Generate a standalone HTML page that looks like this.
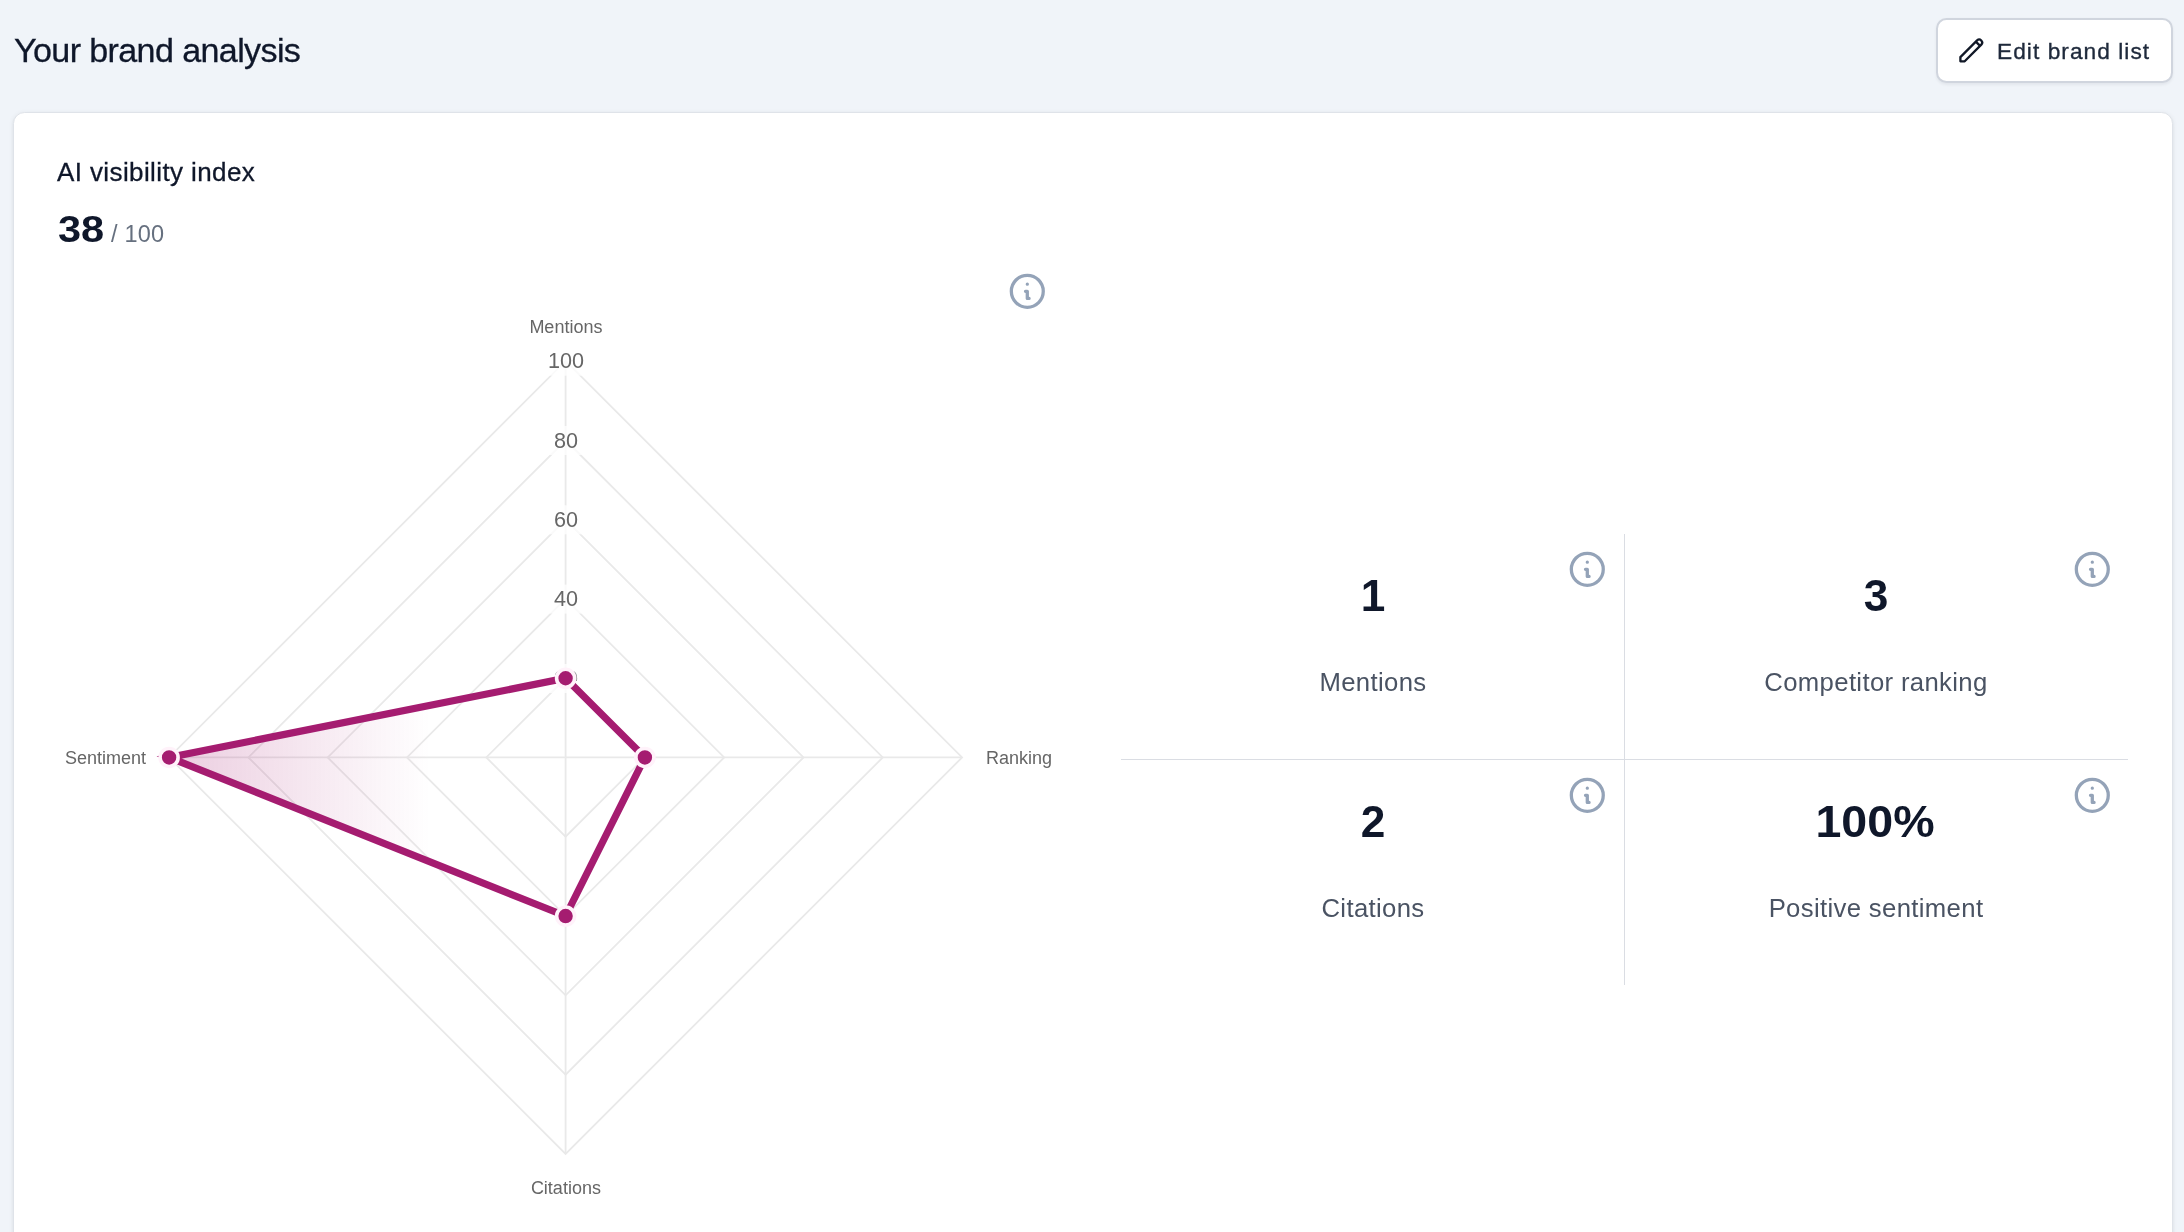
<!DOCTYPE html>
<html lang="en">
<head>
<meta charset="utf-8">
<title>Your brand analysis</title>
<style>
  html, body { margin: 0; padding: 0; }
  body {
    width: 2184px; height: 1232px; overflow: hidden; position: relative;
    background: #f0f4f9;
    font-family: "Liberation Sans", Arial, sans-serif;
    color: #0f172a;
  }
  .abs { position: absolute; white-space: nowrap; line-height: 1; will-change: transform; }
  h1 { margin: 0; font-weight: 400; }
  .btn {
    position: absolute; left: 1936px; top: 18px; width: 237px; height: 65px;
    box-sizing: border-box; background: #fff; border: 2px solid #d0d5de;
    border-radius: 10.5px; box-shadow: 0 1.8px 3px rgba(15,23,42,0.06);
  }
  .card {
    position: absolute; left: 12.5px; top: 112px; width: 2160.5px; height: 1200px;
    box-sizing: border-box; background: #fff; border: 1.4px solid #dfe3e9;
    border-radius: 11.5px; box-shadow: 0 1.8px 5.4px rgba(0,0,0,0.07), 0 1.8px 3.6px -1.8px rgba(0,0,0,0.07);
  }
  .info { position: absolute; width: 42.6px; height: 42.6px; color: #94a3b8; }
  .vline { position: absolute; left: 1624px; top: 534px; width: 1px; height: 451px; background: #dadde3; }
  .hline { position: absolute; left: 1121px; top: 759px; width: 1007px; height: 1px; background: #dadde3; }
  .num { font-weight: 700; color: #0f172a; }
  .lbl { color: #4a5363; }
</style>
</head>
<body>
  <h1 class="abs" id="t_title" style="left:13.6px; top:33.3px; font-size:34.1px; letter-spacing:-0.62px; -webkit-text-stroke:0.3px #0f172a;">Your brand analysis</h1>

  <div class="btn"></div>
  <svg class="abs" id="pencil" style="left:1950px; top:30px; width:40px; height:40px;" viewBox="1950 30 40 40" fill="none" stroke="#111827" stroke-width="2.3" stroke-linecap="round" stroke-linejoin="round">
    <path d="M1960.4 61.3L1960.4 57.1L1977.08 40.38A3 3 0 0 1 1981.32 44.62L1964.7 61.3ZM1975.81 41.65L1980.05 45.89"/>
  </svg>
  <span class="abs" id="t_edit" style="left:1997.3px; top:39.9px; font-size:22.7px; letter-spacing:1.05px; color:#1e293b; -webkit-text-stroke:0.35px #1e293b;">Edit brand list</span>

  <div class="card"></div>

  <span class="abs" id="t_ai" style="left:57.3px; top:159.3px; font-size:26px; letter-spacing:0.39px; -webkit-text-stroke:0.3px #0f172a;">AI visibility index</span>
  <span class="abs num" id="t_38" style="left:57.95px; top:210.5px; font-size:37.4px; transform:scaleX(1.111); transform-origin:0 0;">38</span>
  <span class="abs" id="t_100" style="left:111.2px; top:222.8px; font-size:23.5px; letter-spacing:0.2px; color:#66707f;">/ 100</span>

  <!-- chart info icon -->
  <svg class="info" style="left:1006.3px; top:270.1px;" viewBox="0 0 24 24" fill="none" stroke="currentColor" stroke-width="1.85"><path stroke-linecap="round" stroke-linejoin="round" d="M13 16h-1v-4h-1m1-4h.01M21 12a9 9 0 11-18 0 9 9 0 0118 0z"/></svg>

  <!-- radar chart -->
  <svg class="abs" id="chart" style="left:0; top:0;" width="1100" height="1232" viewBox="0 0 1100 1232">
    <defs>
      <linearGradient id="fillg" gradientUnits="userSpaceOnUse" x1="169" y1="0" x2="430" y2="0">
        <stop offset="0" stop-color="#a51c70" stop-opacity="0.22"/>
        <stop offset="1" stop-color="#a51c70" stop-opacity="0"/>
      </linearGradient>
      <clipPath id="clip20"><rect x="540" y="660" width="52" height="21"/></clipPath>
    </defs>
    <g fill="none" stroke="#e9e9e9" stroke-width="1.8" transform="translate(0,0.25)">
      <polygon points="565.6,678.0 644.9,757.2 565.6,836.5 486.3,757.2"/>
      <polygon points="565.6,598.6 724.2,757.2 565.6,915.8 407.0,757.2"/>
      <polygon points="565.6,519.3 803.5,757.2 565.6,995.1 327.7,757.2"/>
      <polygon points="565.6,440.0 882.8,757.2 565.6,1074.4 248.4,757.2"/>
      <polygon points="565.6,360.7 962.1,757.2 565.6,1153.7 169.1,757.2"/>
      <line x1="565.6" y1="757.2" x2="565.6" y2="360.7"/>
      <line x1="565.6" y1="757.2" x2="962.1" y2="757.2"/>
      <line x1="565.6" y1="757.2" x2="565.6" y2="1153.7"/>
      <line x1="565.6" y1="757.2" x2="169.1" y2="757.2"/>
    </g>
    <g font-family="Liberation Sans, Arial, sans-serif" font-size="18" fill="#666">
      <text x="565.9" y="333" text-anchor="middle">Mentions</text>
      <text x="986" y="763.6">Ranking</text>
      <text x="565.9" y="1194.1" text-anchor="middle">Citations</text>
      <text x="146" y="763.7" text-anchor="end">Sentiment</text>
    </g>
    <g font-family="Liberation Sans, Arial, sans-serif" font-size="21.6" fill="#666" text-anchor="middle">
      <rect x="548" y="664" width="36" height="29" fill="rgba(255,255,255,0.75)"/>
      <text x="565.9" y="685.6" clip-path="url(#clip20)" fill="#8c8c8c">20</text>
      <rect x="548" y="584.6" width="36" height="29" fill="rgba(255,255,255,0.75)"/>
      <text x="565.9" y="606.2">40</text>
      <rect x="548" y="505.3" width="36" height="29" fill="rgba(255,255,255,0.75)"/>
      <text x="565.9" y="526.9">60</text>
      <rect x="548" y="426" width="36" height="29" fill="rgba(255,255,255,0.75)"/>
      <text x="565.9" y="447.6">80</text>
      <rect x="542" y="346.7" width="48" height="29" fill="rgba(255,255,255,0.75)"/>
      <text x="565.9" y="368.3">100</text>
    </g>
    <polygon transform="translate(0,0.25)" points="565.6,678.0 644.9,757.2 565.6,915.8 169.1,757.2" fill="url(#fillg)" stroke="#a51c70" stroke-width="7.2" stroke-linejoin="miter"/>
    <g fill="#a51c70" stroke="#fff2fa" stroke-width="3.6" transform="translate(0,0.25)">
      <circle cx="565.6" cy="678.0" r="9"/>
      <circle cx="644.9" cy="757.2" r="9"/>
      <circle cx="565.6" cy="915.8" r="9"/>
      <circle cx="169.1" cy="757.2" r="9"/>
    </g>
  </svg>

  <!-- stats grid -->
  <div class="vline"></div>
  <div class="hline"></div>

  <svg class="info" style="left:1565.9px; top:548.2px;" viewBox="0 0 24 24" fill="none" stroke="currentColor" stroke-width="1.85"><path stroke-linecap="round" stroke-linejoin="round" d="M13 16h-1v-4h-1m1-4h.01M21 12a9 9 0 11-18 0 9 9 0 0118 0z"/></svg>
  <svg class="info" style="left:2071.0px; top:548.2px;" viewBox="0 0 24 24" fill="none" stroke="currentColor" stroke-width="1.85"><path stroke-linecap="round" stroke-linejoin="round" d="M13 16h-1v-4h-1m1-4h.01M21 12a9 9 0 11-18 0 9 9 0 0118 0z"/></svg>
  <svg class="info" style="left:1566.0px; top:773.8px;" viewBox="0 0 24 24" fill="none" stroke="currentColor" stroke-width="1.85"><path stroke-linecap="round" stroke-linejoin="round" d="M13 16h-1v-4h-1m1-4h.01M21 12a9 9 0 11-18 0 9 9 0 0118 0z"/></svg>
  <svg class="info" style="left:2071.0px; top:773.8px;" viewBox="0 0 24 24" fill="none" stroke="currentColor" stroke-width="1.85"><path stroke-linecap="round" stroke-linejoin="round" d="M13 16h-1v-4h-1m1-4h.01M21 12a9 9 0 11-18 0 9 9 0 0118 0z"/></svg>

  <span class="abs num" id="n1" style="left:1272.7px; width:200px; text-align:center; top:573.7px; font-size:44.2px;">1</span>
  <span class="abs num" id="n3" style="left:1776.3px; width:200px; text-align:center; top:573.7px; font-size:44.2px;">3</span>
  <span class="abs num" id="n2" style="left:1272.7px; width:200px; text-align:center; top:799.5px; font-size:44.2px;">2</span>
  <span class="abs num" id="n4" style="left:1775.35px; width:200px; text-align:center; top:799.5px; font-size:44.2px; transform:scaleX(1.054);">100%</span>

  <span class="abs lbl" id="l1" style="left:1172.7px; width:400px; text-align:center; top:670.3px; font-size:25.7px; letter-spacing:0.35px;">Mentions</span>
  <span class="abs lbl" id="l3" style="left:1676.3px; width:400px; text-align:center; top:670.3px; font-size:25.7px; letter-spacing:0.35px;">Competitor ranking</span>
  <span class="abs lbl" id="l2" style="left:1172.7px; width:400px; text-align:center; top:896.3px; font-size:25.7px; letter-spacing:0.35px;">Citations</span>
  <span class="abs lbl" id="l4" style="left:1676.3px; width:400px; text-align:center; top:896.3px; font-size:25.7px; letter-spacing:0.35px;">Positive sentiment</span>
</body>
</html>
